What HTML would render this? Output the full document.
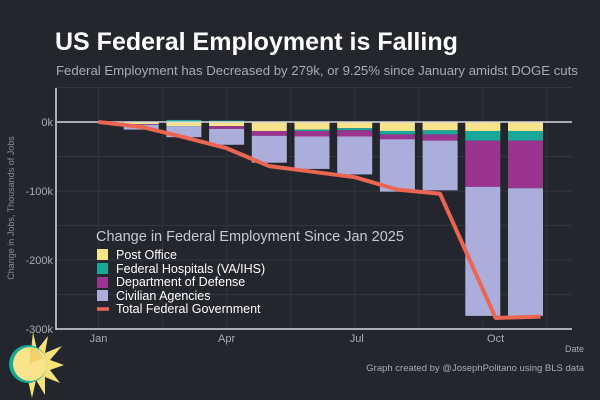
<!DOCTYPE html>
<html><head><meta charset="utf-8"><style>
body{margin:0;background:#23262d;}
svg{display:block;font-family:"Liberation Sans",sans-serif;}
</style></head><body>
<svg width="600" height="400" viewBox="0 0 600 400">
<rect width="600" height="400" fill="#23262d"/>
<text x="55" y="50" fill="#ffffff" font-size="25" font-weight="bold">US Federal Employment is Falling</text>
<text x="56" y="75" fill="#a8abb2" font-size="13.2">Federal Employment has Decreased by 279k, or 9.25% since January amidst DOGE cuts</text>
<g id="grid"></g>
<g id="bars"></g>
<g id="axes"></g>
<polyline id="line" fill="none" stroke="#ec6553" stroke-width="4" stroke-linejoin="round"/>
<text x="14" y="208" fill="#8a8d94" font-size="9" transform="rotate(-90 14 208)" text-anchor="middle">Change in Jobs, Thousands of Jobs</text>
<text x="584" y="352" fill="#a8abb2" font-size="9" text-anchor="end">Date</text>
<text x="584" y="371" fill="#a8abb2" font-size="9.5" text-anchor="end">Graph created by @JosephPolitano using BLS data</text>
<g>
<text x="96" y="241" fill="#c8cad0" font-size="14.5">Change in Federal Employment Since Jan 2025</text>
<rect x="97" y="249" width="11" height="11" fill="#f7e48a"/>
<text x="116" y="259" fill="#ffffff" font-size="12.5">Post Office</text>
<rect x="97" y="263" width="11" height="11" fill="#1aa79a"/>
<text x="116" y="273" fill="#ffffff" font-size="12.5">Federal Hospitals (VA/IHS)</text>
<rect x="97" y="277" width="11" height="11" fill="#9a348f"/>
<text x="116" y="286" fill="#ffffff" font-size="12.5">Department of Defense</text>
<rect x="97" y="290" width="11" height="11" fill="#abaedb"/>
<text x="116" y="300" fill="#ffffff" font-size="12.5">Civilian Agencies</text>
<line x1="97" y1="309" x2="109" y2="309" stroke="#ec6553" stroke-width="3.5"/>
<text x="116" y="313" fill="#ffffff" font-size="12.5">Total Federal Government</text>
</g>
<g>
<polygon points="33,332 37,350 48,336 45,353 62,346 50,360 64,365 50,370 60,383 45,377 45,395 36,380 32,398 28,380" fill="#f7e27a"/>
<circle cx="28" cy="364" r="19" fill="#1aa79a"/>
<circle cx="30" cy="364" r="17" fill="#f9e38b"/>
<polygon points="30,347 38,350 44,358 30,364" fill="#f2d36a"/>
</g>
</svg>
<script>
const months=["Jan","Feb","Mar","Apr","May","Jun","Jul","Aug","Sep","Oct","Nov"];
const tickMonths=["Jan","Apr","Jul","Oct"];
const tickPos=[0,3.0,6.05,9.3];
const yTicks=[0,-100,-200,-300];
const yTickLabels=["0k","-100k","-200k","-300k"];
const postOffice=[0,-3,-6,-6,-13,-11,-9,-13,-12,-13,-13];
const hospitals=[0,0,3,2,0,-2,-3,-5,-6,-14,-14];
const defense=[0,-1,0,-4,-7,-8,-9,-7,-9,-67,-69];
const civilian=[0,-7,-16,-23,-39,-47,-55,-76,-72,-187,-185];
const total=[0,-7,-22,-38,-64,-72,-80,-98,-104,-284,-282];
const linePos=[0,1,2,3,4,5,6,7,8,9.3,10.35];
const NS="http://www.w3.org/2000/svg";
const X=p=>98.5+p*42.7;
const Y=v=>122-v*0.69;
function mk(t,a,p){const e=document.createElementNS(NS,t);for(const k in a)e.setAttribute(k,a[k]);p.appendChild(e);return e;}
const grid=document.getElementById('grid'),bars=document.getElementById('bars'),axes=document.getElementById('axes');
for(let v=50;v>=-300;v-=50){const g=mk('line',{x1:57,x2:572,y1:Y(v),y2:Y(v),stroke:'#33363e','stroke-width':1},grid);

}
for(let p=0;p<=10.5;p+=1.5){const g=mk('line',{x1:X(p),x2:X(p),y1:88,y2:329,stroke:'#2f323a','stroke-width':1},grid);

}
const series=[[postOffice,'#f7e48a','post-office'],[hospitals,'#1aa79a','hospitals'],[defense,'#9a348f','defense'],[civilian,'#abaedb','civilian']];
for(let i=1;i<months.length;i++){
 let neg=0,pos=0;
 series.forEach(([arr,col,nm])=>{const v=arr[i];let y0,y1;
  if(v>=0){y0=pos+v;y1=pos;pos+=v;}else{y0=neg;y1=neg+v;neg+=v;}
  if(v===0)return;
  const r=mk('rect',{x:X(i)-17.5,y:Y(y0),width:35,height:Y(y1)-Y(y0),fill:col},bars);
  
  });
}
const zl=mk('line',{x1:57,x2:572,y1:Y(0),y2:Y(0),stroke:'#d8d8dc','stroke-width':1.5},axes);


const ya=mk('line',{x1:56,x2:56,y1:88,y2:330,stroke:'#d8d8dc','stroke-width':1.5},axes);


const xa=mk('line',{x1:56,x2:572,y1:329,y2:329,stroke:'#d8d8dc','stroke-width':1.5},axes);


yTicks.forEach((v,k)=>{const t=mk('text',{x:53,y:Y(v)+4,fill:'#a8abb2','font-size':11,'text-anchor':'end'},axes);t.textContent=yTickLabels[k];

});
tickMonths.forEach((m,k)=>{const t=mk('text',{x:X(tickPos[k]),y:342,fill:'#a8abb2','font-size':11,'text-anchor':'middle'},axes);t.textContent=m;

});
document.getElementById('line').setAttribute('points',total.map((v,i)=>X(linePos[i])+','+Y(v)).join(' '));
</script>
</body></html>
